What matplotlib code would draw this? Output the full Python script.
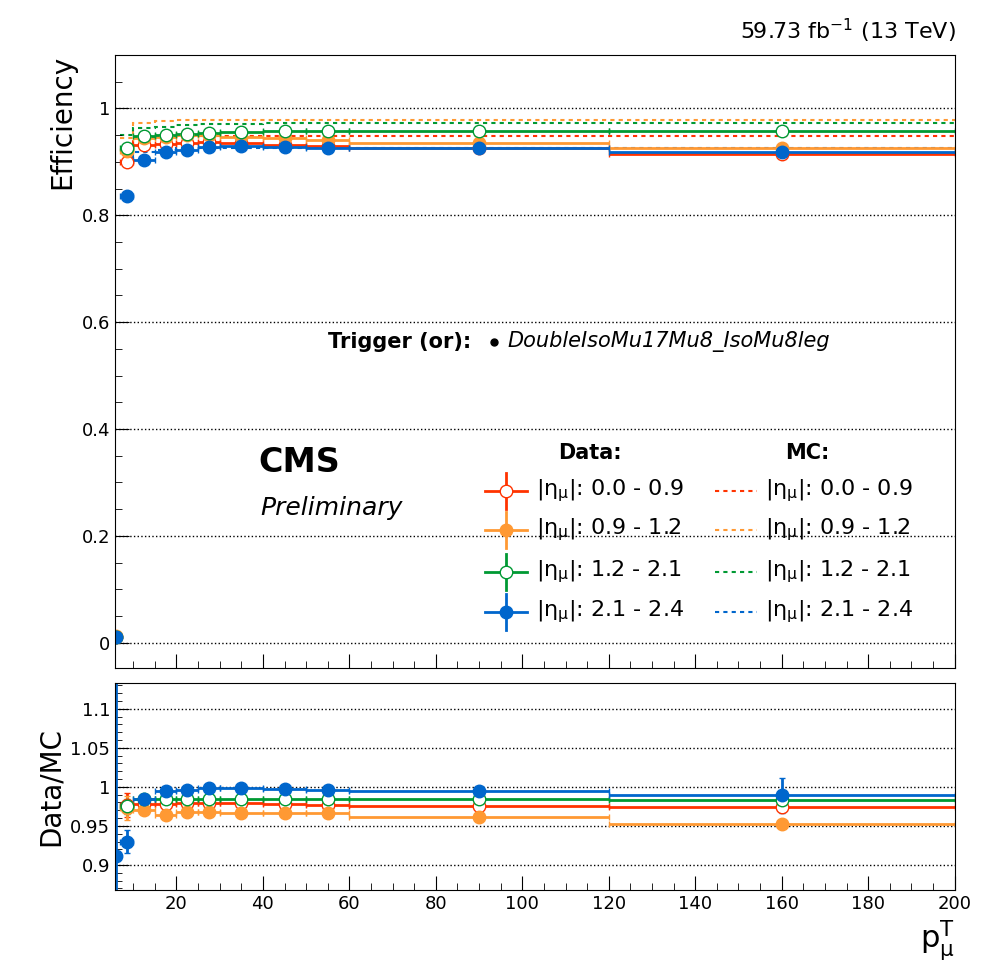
import matplotlib
matplotlib.use("Agg")
import matplotlib.pyplot as plt
import numpy as np

edges = np.array([5, 7, 10, 15, 20, 25, 30, 40, 50, 60, 120, 200])
centers = 0.5 * (edges[1:] + edges[:-1])
xerr = 0.5 * (edges[1:] - edges[:-1])

labels = ["0.0 - 0.9", "0.9 - 1.2", "1.2 - 2.1", "2.1 - 2.4"]
colors = ["#ff3300", "#ff9933", "#009933", "#0066cc"]
filled = [False, True, False, True]

eff_data = [
    [0.010, 0.900, 0.932, 0.934, 0.936, 0.938, 0.935, 0.932, 0.930, 0.926, 0.915],
    [0.012, 0.920, 0.945, 0.947, 0.950, 0.950, 0.946, 0.945, 0.940, 0.935, 0.925],
    [0.010, 0.925, 0.948, 0.950, 0.952, 0.953, 0.955, 0.957, 0.958, 0.958, 0.958],
    [0.010, 0.836, 0.903, 0.918, 0.923, 0.927, 0.929, 0.927, 0.925, 0.925, 0.918],
]
eff_mc = [
    [0.012, 0.925, 0.945, 0.947, 0.948, 0.948, 0.948, 0.948, 0.948, 0.948, 0.948],
    [0.012, 0.945, 0.972, 0.977, 0.978, 0.978, 0.978, 0.978, 0.978, 0.978, 0.978],
    [0.012, 0.950, 0.963, 0.966, 0.968, 0.970, 0.970, 0.972, 0.972, 0.972, 0.972],
    [0.012, 0.900, 0.918, 0.922, 0.925, 0.925, 0.926, 0.926, 0.926, 0.926, 0.926],
]
ratio = [
    [np.nan, 0.977, 0.978, 0.978, 0.979, 0.979, 0.979, 0.978, 0.977, 0.976, 0.974],
    [np.nan, 0.973, 0.970, 0.964, 0.968, 0.968, 0.967, 0.967, 0.966, 0.962, 0.953],
    [np.nan, 0.975, 0.985, 0.985, 0.985, 0.985, 0.985, 0.985, 0.985, 0.985, 0.983],
    [0.912, 0.930, 0.985, 0.995, 0.996, 0.998, 0.998, 0.997, 0.996, 0.995, 0.989],
]
ratio_err = [
    [0, 0.015, 0.003, 0.002, 0.002, 0.002, 0.002, 0.002, 0.002, 0.003, 0.005],
    [0, 0.015, 0.003, 0.002, 0.002, 0.002, 0.002, 0.002, 0.002, 0.003, 0.005],
    [0, 0.010, 0.003, 0.002, 0.002, 0.002, 0.002, 0.002, 0.002, 0.003, 0.010],
    [0.30, 0.015, 0.004, 0.003, 0.002, 0.002, 0.002, 0.002, 0.002, 0.003, 0.022],
]

fig = plt.figure(figsize=(9.96, 9.72), dpi=100)
ax = fig.add_axes([0.1155, 0.3128, 0.843, 0.6307])
axr = fig.add_axes([0.1155, 0.0844, 0.843, 0.213])

for i in range(4):
    c = colors[i]
    fc = c if filled[i] else "white"
    ax.stairs(eff_mc[i][1:], edges[1:], color=c, ls=(0, (2, 2)), lw=1.5, baseline=None)
    ax.errorbar(centers, eff_data[i], xerr=xerr, yerr=0.003, fmt="o", color=c, mfc=fc,
                mec=c, ms=9, lw=2, capsize=2)
    axr.errorbar(centers, ratio[i], xerr=xerr, yerr=ratio_err[i], fmt="o", color=c,
                 mfc=fc, mec=c, ms=9, lw=2, capsize=2)

for a in (ax, axr):
    a.set_xlim(5.8, 200)
    a.grid(axis="y", color="black", ls=":", lw=1)
    a.set_xticks(np.arange(20, 201, 20))
    a.minorticks_on()
    a.tick_params(which="both", direction="in", top=False, right=False, labelsize=13)
    a.tick_params(which="major", length=10)
    a.tick_params(which="minor", length=5)

ax.set_ylim(-0.047, 1.1)
ax.set_yticks([0, 0.2, 0.4, 0.6, 0.8, 1])
ax.set_yticklabels(["0", "0.2", "0.4", "0.6", "0.8", "1"])
ax.tick_params(labelbottom=False)
ax.set_ylabel("Efficiency", fontsize=20, loc="top")
axr.set_ylim(0.868, 1.133)
axr.set_yticks([0.9, 0.95, 1, 1.05, 1.1])
axr.set_yticklabels(["0.9", "0.95", "1", "1.05", "1.1"])
axr.set_ylabel("Data/MC", fontsize=20)
axr.set_xlabel(r"$\mathregular{p_{\mu}^{T}}$", fontsize=22, loc="right")

fig.text(0.96, 0.96, r"59.73 fb$^{\mathregular{-1}}$ (13 TeV)", ha="right", fontsize=16)


def ax_xy(px, py):
    return (px - 115) / 840, (668 - py) / 613


kw = dict(transform=ax.transAxes, va="center")
ax.text(*ax_xy(328, 342), "Trigger (or):", fontsize=15, fontweight="bold", **kw)
ax.plot(*ax_xy(494, 342), "o", color="black", ms=5, transform=ax.transAxes)
ax.text(*ax_xy(508, 342), "DoubleIsoMu17Mu8_IsoMu8leg", fontsize=15, style="italic", **kw)
ax.text(*ax_xy(258, 463), "CMS", fontsize=24, fontweight="bold", **kw)
ax.text(*ax_xy(260, 508), "Preliminary", fontsize=18, style="italic", **kw)
ax.text(*ax_xy(590, 453), "Data:", fontsize=15, fontweight="bold", ha="center",
        transform=ax.transAxes, va="center")
ax.text(*ax_xy(808, 453), "MC:", fontsize=15, fontweight="bold", ha="center",
        transform=ax.transAxes, va="center")

rows = [491, 530, 572, 612]
for i in range(4):
    c = colors[i]
    py = rows[i]
    x0, y0 = ax_xy(485, py)
    x1, _ = ax_xy(527, py)
    xm, _ = ax_xy(506, py)
    dy = 18 / 613
    ax.plot([x0, x1], [y0, y0], color=c, lw=2, transform=ax.transAxes)
    ax.plot([xm, xm], [y0 - dy, y0 + dy], color=c, lw=2, transform=ax.transAxes)
    ax.plot([xm], [y0], "o", color=c, mfc=c if filled[i] else "white", mec=c, ms=9,
            transform=ax.transAxes)
    ax.text(*ax_xy(536, py), r"$\mathregular{|\eta_{\mu}|}$: " + labels[i], fontsize=16, **kw)
    m0, _ = ax_xy(715, py)
    m1, _ = ax_xy(757, py)
    ax.plot([m0, m1], [y0, y0], color=c, lw=1.5, ls=(0, (2, 2)), transform=ax.transAxes)
    ax.text(*ax_xy(765, py), r"$\mathregular{|\eta_{\mu}|}$: " + labels[i], fontsize=16, **kw)

fig.savefig("out.png", dpi=100)
